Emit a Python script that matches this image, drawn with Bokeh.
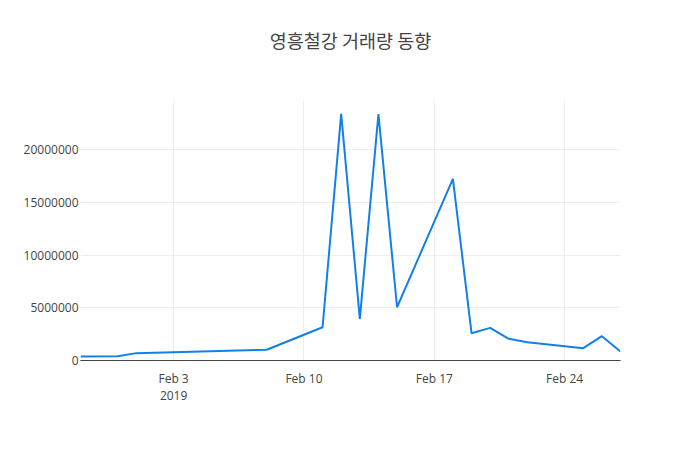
import datetime as dt
from bokeh.plotting import figure
from bokeh.models import FixedTicker, Range1d, Span, BasicTickFormatter, Title
from bokeh.embed import file_html
from bokeh.resources import INLINE

dates = ["2019-01-29", "2019-01-31", "2019-02-01", "2019-02-08", "2019-02-11",
         "2019-02-12", "2019-02-13", "2019-02-14", "2019-02-15", "2019-02-18",
         "2019-02-19", "2019-02-20", "2019-02-21", "2019-02-22", "2019-02-25",
         "2019-02-26", "2019-02-27"]
volume = [380000, 400000, 700000, 1020000, 3160000,
          23430000, 3960000, 23400000, 5060000, 17260000,
          2590000, 3100000, 2060000, 1740000, 1170000,
          2310000, 850000]
x_tick_dates = ["2019-02-03", "2019-02-10", "2019-02-17", "2019-02-24"]
x_tick_labels = ["Feb 3\n2019", "Feb 10", "Feb 17", "Feb 24"]
y_ticks = [0, 5000000, 10000000, 15000000, 20000000]
title_text = "영흥철강 거래량 동향"


def ms(s):
    d = dt.datetime.strptime(s, "%Y-%m-%d").replace(tzinfo=dt.timezone.utc)
    return d.timestamp() * 1000.0


xs = [ms(d) for d in dates]
xt = [ms(d) for d in x_tick_dates]

p = figure(width=684, height=434, output_backend="svg", toolbar_location=None,
           x_axis_type="datetime",
           x_range=Range1d(xs[0], xs[-1]), y_range=Range1d(0, 24700000),
           min_border_left=80, min_border_right=64, min_border_top=100,
           min_border_bottom=74)
p.outline_line_color = None
p.background_fill_color = "white"
p.border_fill_color = "white"

p.title.text = title_text
p.title.align = "center"
p.title.text_font = "Noto Sans CJK KR"
p.title.text_font_size = "18.5px"
p.title.text_font_style = "normal"
p.title.text_color = "#444444"
p.title.offset = 0
p.title.standoff = 10

spacer = Title(text=" ", text_font_size="1px", standoff=40)
p.add_layout(spacer, "above")

p.line(xs, volume, line_color="#1380e8", line_width=2)

p.xaxis.ticker = FixedTicker(ticks=xt)
p.xaxis.major_label_overrides = {t: l for t, l in zip(xt, x_tick_labels)}
p.yaxis.ticker = FixedTicker(ticks=y_ticks)
p.yaxis.formatter = BasicTickFormatter(use_scientific=False)

for ax in (p.xaxis[0], p.yaxis[0]):
    ax.major_tick_line_color = None
    ax.minor_tick_line_color = None
    ax.major_tick_out = 0
    ax.major_tick_in = 0
    ax.minor_tick_out = 0
    ax.minor_tick_in = 0
    ax.major_label_text_font = "Open Sans"
    ax.major_label_text_font_size = "12px"
    ax.major_label_text_color = "#444444"
p.xaxis.major_label_text_line_height = 1.0
p.yaxis.axis_line_color = None
p.xaxis.axis_line_color = "#444444"
p.xaxis.axis_line_width = 1
p.xaxis.major_label_standoff = 9
p.yaxis.major_label_standoff = 2

p.xgrid.ticker = FixedTicker(ticks=xt)
p.ygrid.ticker = FixedTicker(ticks=y_ticks[1:])
p.xgrid.grid_line_color = "#eeeeee"
p.ygrid.grid_line_color = "#eeeeee"

zero = Span(location=0, dimension="width", line_color="#444444", line_width=1)
p.add_layout(zero)

open("out.html", "w").write(file_html(p, INLINE))
